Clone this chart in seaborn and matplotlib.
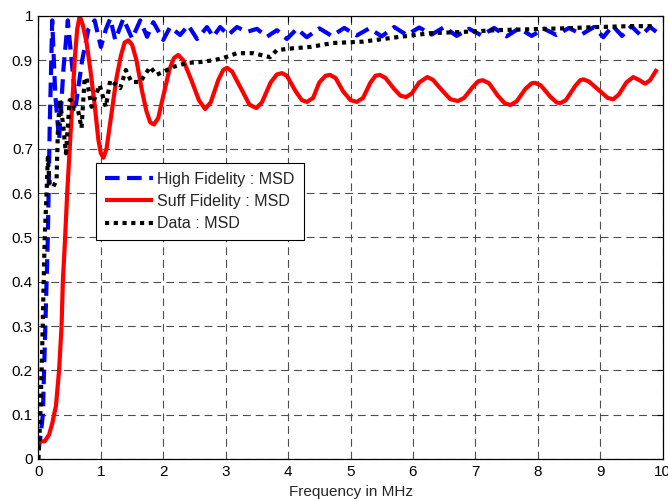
import numpy as np
import pandas as pd
import matplotlib
matplotlib.use("Agg")
import matplotlib.pyplot as plt
import seaborn as sns

# === values ===
hf_freq = [0, 0.04, 0.07, 0.11, 0.15, 0.18, 0.22, 0.27, 0.33, 0.40, 0.47, 0.53, 0.60,
           0.70, 0.80, 0.90, 1.0, 1.08, 1.15, 1.23, 1.36, 1.50, 1.63, 1.74, 1.84, 2.0,
           2.11, 2.27, 2.40, 2.54, 2.70, 2.80, 2.91, 3.04, 3.18, 3.34, 3.50, 3.66, 3.82,
           3.98, 4.14, 4.3, 4.5, 4.7, 4.9, 5.1, 5.3, 5.5, 5.7, 5.9, 6.1, 6.3, 6.5, 6.7,
           6.9, 7.1, 7.3, 7.5, 7.7, 7.9, 8.1, 8.3, 8.5, 8.7, 8.9, 9.05, 9.2, 9.35, 9.5,
           9.65, 9.8, 9.92]
hf_msd = [0.02, 0.06, 0.1, 0.3, 0.5, 0.75, 0.99, 0.82, 0.72, 0.88, 0.99, 0.9, 0.8,
          0.9, 0.97, 0.99, 0.93, 0.97, 0.994, 0.946, 0.994, 0.949, 0.99, 0.953, 0.986, 0.946,
          0.975, 0.957, 0.979, 0.948, 0.975, 0.953, 0.975, 0.957, 0.975, 0.964, 0.971, 0.953, 0.968,
          0.948, 0.971, 0.952, 0.972, 0.955, 0.973, 0.956, 0.972, 0.954, 0.975, 0.957, 0.974, 0.958, 0.975, 0.955,
          0.971, 0.956, 0.973, 0.954, 0.972, 0.955, 0.971, 0.957, 0.973, 0.958, 0.975, 0.952, 0.978, 0.955, 0.977,
          0.956, 0.975, 0.962]

sf_freq = [0, 0.1, 0.17, 0.22, 0.28, 0.33, 0.37, 0.39, 0.42, 0.46, 0.5, 0.54, 0.58, 0.62,
           0.66, 0.71, 0.77, 0.83, 0.9, 0.96, 1.0, 1.04, 1.09, 1.17, 1.25, 1.32, 1.38, 1.44,
           1.5, 1.57, 1.66, 1.73, 1.79, 1.85, 1.92, 2.0, 2.1, 2.17, 2.24, 2.32, 2.45, 2.57,
           2.67, 2.76, 2.88, 2.96, 3.02, 3.1, 3.25, 3.38, 3.49, 3.58, 3.72, 3.82, 3.90, 3.98,
           4.12, 4.22, 4.30, 4.4, 4.5, 4.6, 4.67, 4.76, 4.88, 5.0, 5.10, 5.2, 5.32, 5.4,
           5.47, 5.56, 5.7, 5.8, 5.89, 5.98, 6.1, 6.23, 6.32, 6.48, 6.6, 6.72, 6.82, 6.96,
           7.05, 7.12, 7.22, 7.36, 7.47, 7.56, 7.66, 7.8, 7.9, 7.96, 8.05, 8.2, 8.3, 8.36,
           8.45, 8.6, 8.68, 8.73, 8.82, 9.0, 9.12, 9.21, 9.3, 9.42, 9.53, 9.63, 9.72, 9.8, 9.91]
sf_msd = [0.04, 0.04, 0.055, 0.08, 0.12, 0.2, 0.3, 0.4, 0.48, 0.6, 0.7, 0.8, 0.9, 0.97,
          1.0, 0.98, 0.94, 0.88, 0.8, 0.72, 0.69, 0.68, 0.7, 0.78, 0.86, 0.91, 0.94, 0.945,
          0.935, 0.9, 0.83, 0.785, 0.76, 0.755, 0.77, 0.82, 0.88, 0.905, 0.912, 0.9, 0.855, 0.81,
          0.79, 0.805, 0.855, 0.878, 0.883, 0.875, 0.835, 0.80, 0.792, 0.805, 0.85, 0.868, 0.871, 0.865,
          0.83, 0.81, 0.806, 0.815, 0.85, 0.865, 0.867, 0.86, 0.83, 0.81, 0.806, 0.815, 0.85, 0.865,
          0.867, 0.86, 0.835, 0.82, 0.817, 0.825, 0.85, 0.862, 0.856, 0.83, 0.812, 0.808, 0.815, 0.84,
          0.853, 0.855, 0.848, 0.82, 0.803, 0.799, 0.807, 0.835, 0.848, 0.849, 0.843, 0.818, 0.805, 0.803,
          0.81, 0.842, 0.855, 0.857, 0.852, 0.83, 0.815, 0.812, 0.823, 0.85, 0.862, 0.855, 0.847, 0.855, 0.88]

data_freq = [0, 0.03, 0.06, 0.08, 0.1, 0.13, 0.15, 0.18, 0.24, 0.29, 0.31, 0.34, 0.39, 0.44,
             0.47, 0.50, 0.52, 0.58, 0.63, 0.69, 0.74, 0.77, 0.85, 0.98, 1.08, 1.15, 1.31, 1.40,
             1.49, 1.63, 1.79, 1.89, 2.0, 2.16, 2.38, 2.59, 2.80, 2.96, 3.18, 3.44, 3.71, 3.82,
             4.08, 4.35, 4.72, 5.2, 5.74, 6.27, 6.8, 7.35, 7.88, 8.4, 8.95, 9.48, 9.9]
data_msd = [0, 0.1, 0.25, 0.38, 0.5, 0.6, 0.68, 0.62, 0.615, 0.63, 0.735, 0.81, 0.76, 0.69,
            0.75, 0.81, 0.81, 0.79, 0.79, 0.747, 0.86, 0.86, 0.795, 0.844, 0.795, 0.855, 0.837, 0.878,
            0.851, 0.851, 0.885, 0.867, 0.874, 0.885, 0.894, 0.896, 0.9, 0.905, 0.916, 0.916, 0.907, 0.923,
            0.927, 0.93, 0.939, 0.942, 0.952, 0.961, 0.964, 0.968, 0.97, 0.972, 0.975, 0.977, 0.977]

x_ticks = list(range(0, 11))
y_ticks = [0, 0.1, 0.2, 0.3, 0.4, 0.5, 0.6, 0.7, 0.8, 0.9, 1]
y_labels = ["0", "0.1", "0.2", "0.3", "0.4", "0.5", "0.6", "0.7", "0.8", "0.9", "1"]

sns.set_style("white")
plt.rcParams['font.family'] = ['Liberation Sans', 'DejaVu Sans']
plt.rcParams['lines.solid_capstyle'] = 'butt'
plt.rcParams['lines.dash_capstyle'] = 'butt'

fig = plt.figure(figsize=(6.68, 4.99), dpi=100)
ax = fig.add_axes([0.0576, 0.0802, 0.9343, 0.8878])

sns.lineplot(x=hf_freq, y=hf_msd, ax=ax, color="#0000ff", linewidth=3,
             linestyle=(0, (3.5, 1.8)), label="High Fidelity : MSD", sort=False, estimator=None)
sns.lineplot(x=sf_freq, y=sf_msd, ax=ax, color="#ff0000", linewidth=3,
             label="Suff Fidelity : MSD", sort=False, estimator=None)
sns.lineplot(x=data_freq, y=data_msd, ax=ax, color="black", linewidth=3,
             linestyle=(0, (1, 1.1)), label="Data : MSD", sort=False, estimator=None)

ax.set_xlim(0, 10)
ax.set_ylim(0, 1)
ax.set_xticks(x_ticks)
ax.set_yticks(y_ticks)
ax.set_yticklabels(y_labels)
ax.set_xlabel("Frequency in MHz", fontsize=11, labelpad=5)
ax.set_ylabel("")
ax.grid(True, linestyle=(0, (7, 4.5)), color="0.3", linewidth=0.8)
ax.tick_params(direction="in", top=True, right=True, length=4, width=0.8,
               labelsize=11, colors="black", pad=4)
for s in ax.spines.values():
    s.set_color("black")
    s.set_linewidth(0.9)

leg = ax.legend(loc="upper left", bbox_to_anchor=(0.092, 0.668), borderaxespad=0,
                fontsize=11.5, handlelength=3.0, labelspacing=0.45, fancybox=False,
                framealpha=1, edgecolor="black", borderpad=0.55, handletextpad=0.3)
leg.get_frame().set_linewidth(0.8)

fig.savefig("out.png", dpi=100)
